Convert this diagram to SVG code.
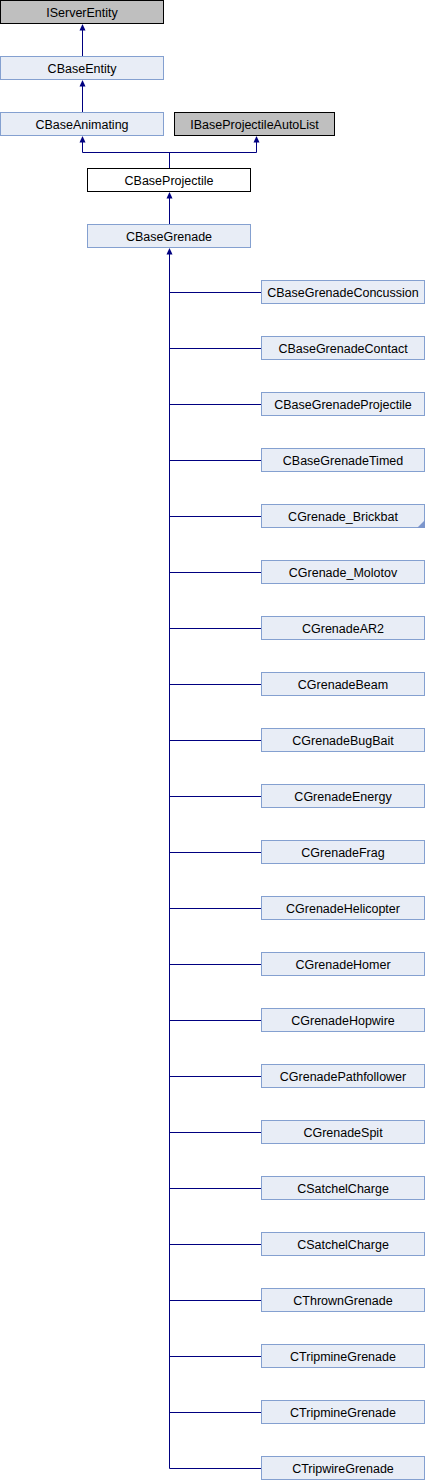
<svg xmlns="http://www.w3.org/2000/svg" width="425" height="1480" viewBox="0 0 425 1480">
<style>
.n rect{stroke-width:1}
.c rect{fill:#e8edf6;stroke:#84a0d0}
.g rect{fill:#bfbfbf;stroke:#000}
.w rect{fill:#fff;stroke:#000}
text{font-family:"Liberation Sans",Arial,sans-serif;font-size:12.5px;fill:#000;text-anchor:middle}
.e path{fill:none;stroke:#000080;stroke-width:1}
.e polygon{fill:#000080;stroke:none}
</style>
<g id="edges" class="e">
<path d="M82.5 30V56.5M82.5 86V112.5M82.5 141V152.5H256.5V141M169.5 152.5V168.5M169.5 197V224.5M169.5 253V1468.5"/>
<path d="M169.5 292.5H261.5M169.5 348.5H261.5M169.5 404.5H261.5M169.5 460.5H261.5M169.5 516.5H261.5M169.5 572.5H261.5M169.5 628.5H261.5M169.5 684.5H261.5M169.5 740.5H261.5M169.5 796.5H261.5M169.5 852.5H261.5M169.5 908.5H261.5M169.5 964.5H261.5M169.5 1020.5H261.5M169.5 1076.5H261.5M169.5 1132.5H261.5M169.5 1188.5H261.5M169.5 1244.5H261.5M169.5 1300.5H261.5M169.5 1356.5H261.5M169.5 1412.5H261.5M169.5 1468.5H261.5"/>
<polygon points="82.5,24 79.5,30.5 85.5,30.5"/>
<polygon points="82.5,80 79.5,86.5 85.5,86.5"/>
<polygon points="82.5,136 79.5,142.5 85.5,142.5"/>
<polygon points="256.5,136 253.5,142.5 259.5,142.5"/>
<polygon points="169.5,192 166.5,198.5 172.5,198.5"/>
<polygon points="169.5,248 166.5,254.5 172.5,254.5"/>
</g>
<g id="IServerEntity" class="n g"><rect x="0.5" y="0.5" width="163" height="23"/><text x="82" y="16.5">IServerEntity</text></g>
<g id="CBaseEntity" class="n c"><rect x="0.5" y="56.5" width="163" height="23"/><text x="82" y="72.5">CBaseEntity</text></g>
<g id="CBaseAnimating" class="n c"><rect x="0.5" y="112.5" width="163" height="23"/><text x="82" y="128.5">CBaseAnimating</text></g>
<g id="IBaseProjectileAutoList" class="n g"><rect x="174.5" y="112.5" width="160" height="23"/><text x="254.5" y="128.5">IBaseProjectileAutoList</text></g>
<g id="CBaseProjectile" class="n w"><rect x="87.5" y="168.5" width="163" height="23"/><text x="169" y="184.5">CBaseProjectile</text></g>
<g id="CBaseGrenade" class="n c"><rect x="87.5" y="224.5" width="163" height="23"/><text x="169" y="240.5">CBaseGrenade</text></g>
<g id="CBaseGrenadeConcussion" class="n c"><rect x="261.5" y="280.5" width="163" height="23"/><text x="343" y="296.5">CBaseGrenadeConcussion</text></g>
<g id="CBaseGrenadeContact" class="n c"><rect x="261.5" y="336.5" width="163" height="23"/><text x="343" y="352.5">CBaseGrenadeContact</text></g>
<g id="CBaseGrenadeProjectile" class="n c"><rect x="261.5" y="392.5" width="163" height="23"/><text x="343" y="408.5">CBaseGrenadeProjectile</text></g>
<g id="CBaseGrenadeTimed" class="n c"><rect x="261.5" y="448.5" width="163" height="23"/><text x="343" y="464.5">CBaseGrenadeTimed</text></g>
<g id="CGrenade_Brickbat" class="n c"><rect x="261.5" y="504.5" width="163" height="23"/><polygon points="425,520 425,528 417,528" fill="#7c96cc"/><text x="343" y="520.5">CGrenade_Brickbat</text></g>
<g id="CGrenade_Molotov" class="n c"><rect x="261.5" y="560.5" width="163" height="23"/><text x="343" y="576.5">CGrenade_Molotov</text></g>
<g id="CGrenadeAR2" class="n c"><rect x="261.5" y="616.5" width="163" height="23"/><text x="343" y="632.5">CGrenadeAR2</text></g>
<g id="CGrenadeBeam" class="n c"><rect x="261.5" y="672.5" width="163" height="23"/><text x="343" y="688.5">CGrenadeBeam</text></g>
<g id="CGrenadeBugBait" class="n c"><rect x="261.5" y="728.5" width="163" height="23"/><text x="343" y="744.5">CGrenadeBugBait</text></g>
<g id="CGrenadeEnergy" class="n c"><rect x="261.5" y="784.5" width="163" height="23"/><text x="343" y="800.5">CGrenadeEnergy</text></g>
<g id="CGrenadeFrag" class="n c"><rect x="261.5" y="840.5" width="163" height="23"/><text x="343" y="856.5">CGrenadeFrag</text></g>
<g id="CGrenadeHelicopter" class="n c"><rect x="261.5" y="896.5" width="163" height="23"/><text x="343" y="912.5">CGrenadeHelicopter</text></g>
<g id="CGrenadeHomer" class="n c"><rect x="261.5" y="952.5" width="163" height="23"/><text x="343" y="968.5">CGrenadeHomer</text></g>
<g id="CGrenadeHopwire" class="n c"><rect x="261.5" y="1008.5" width="163" height="23"/><text x="343" y="1024.5">CGrenadeHopwire</text></g>
<g id="CGrenadePathfollower" class="n c"><rect x="261.5" y="1064.5" width="163" height="23"/><text x="343" y="1080.5">CGrenadePathfollower</text></g>
<g id="CGrenadeSpit" class="n c"><rect x="261.5" y="1120.5" width="163" height="23"/><text x="343" y="1136.5">CGrenadeSpit</text></g>
<g id="CSatchelCharge1" class="n c"><rect x="261.5" y="1176.5" width="163" height="23"/><text x="343" y="1192.5">CSatchelCharge</text></g>
<g id="CSatchelCharge2" class="n c"><rect x="261.5" y="1232.5" width="163" height="23"/><text x="343" y="1248.5">CSatchelCharge</text></g>
<g id="CThrownGrenade" class="n c"><rect x="261.5" y="1288.5" width="163" height="23"/><text x="343" y="1304.5">CThrownGrenade</text></g>
<g id="CTripmineGrenade1" class="n c"><rect x="261.5" y="1344.5" width="163" height="23"/><text x="343" y="1360.5">CTripmineGrenade</text></g>
<g id="CTripmineGrenade2" class="n c"><rect x="261.5" y="1400.5" width="163" height="23"/><text x="343" y="1416.5">CTripmineGrenade</text></g>
<g id="CTripwireGrenade" class="n c"><rect x="261.5" y="1456.5" width="163" height="23"/><text x="343" y="1472.5">CTripwireGrenade</text></g>
</svg>
